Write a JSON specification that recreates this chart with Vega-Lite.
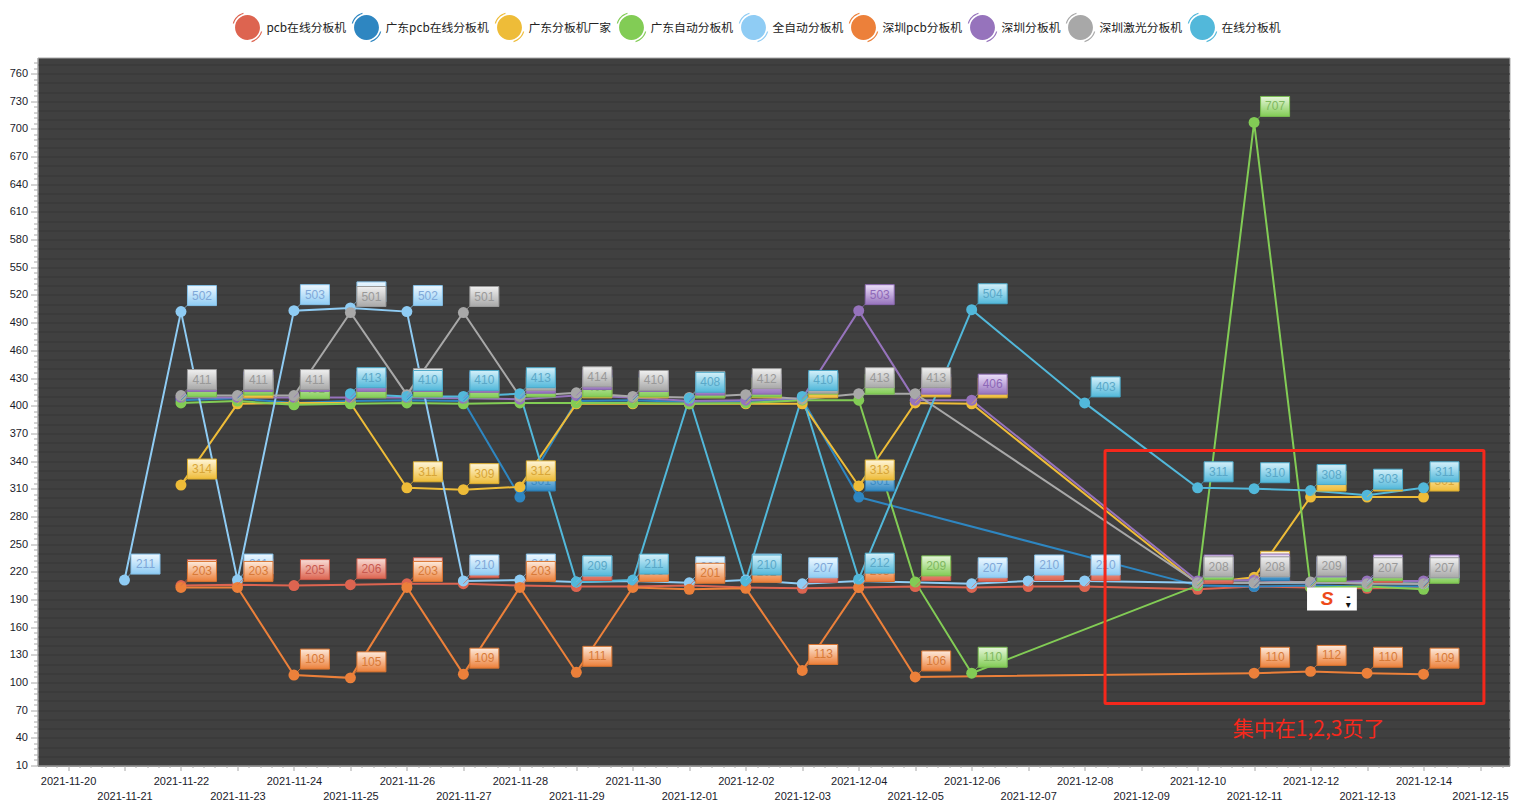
{"$schema":"https://vega.github.io/schema/vega-lite/v6.json","width":1472,"height":708,"autosize":{"type":"none"},"padding":{"left":37.5,"top":57.5,"right":12.5,"bottom":44.5},"background":"#ffffff","view":{"fill":"#404040","stroke":"#a8a8a8"},
"resolve":{"legend":{"color":"independent"}},
"datasets":{"rows":[
{"date":"2021-11-22","series":"pcb在线分板机","value":205},{"date":"2021-11-23","series":"pcb在线分板机","value":206},{"date":"2021-11-24","series":"pcb在线分板机","value":205},{"date":"2021-11-25","series":"pcb在线分板机","value":206},{"date":"2021-11-26","series":"pcb在线分板机","value":207},{"date":"2021-11-27","series":"pcb在线分板机","value":207},{"date":"2021-11-28","series":"pcb在线分板机","value":205},{"date":"2021-11-29","series":"pcb在线分板机","value":204},{"date":"2021-11-30","series":"pcb在线分板机","value":204},{"date":"2021-12-01","series":"pcb在线分板机","value":205},{"date":"2021-12-02","series":"pcb在线分板机","value":203},{"date":"2021-12-03","series":"pcb在线分板机","value":202},{"date":"2021-12-04","series":"pcb在线分板机","value":203},{"date":"2021-12-05","series":"pcb在线分板机","value":204},{"date":"2021-12-06","series":"pcb在线分板机","value":203},{"date":"2021-12-07","series":"pcb在线分板机","value":204},{"date":"2021-12-08","series":"pcb在线分板机","value":204},{"date":"2021-12-10","series":"pcb在线分板机","value":201},{"date":"2021-12-11","series":"pcb在线分板机","value":204},{"date":"2021-12-12","series":"pcb在线分板机","value":203},{"date":"2021-12-13","series":"pcb在线分板机","value":202},{"date":"2021-12-14","series":"pcb在线分板机","value":203},
{"date":"2021-11-22","series":"广东pcb在线分板机","value":406},{"date":"2021-11-23","series":"广东pcb在线分板机","value":408},{"date":"2021-11-24","series":"广东pcb在线分板机","value":403},{"date":"2021-11-25","series":"广东pcb在线分板机","value":405},{"date":"2021-11-26","series":"广东pcb在线分板机","value":406},{"date":"2021-11-27","series":"广东pcb在线分板机","value":405},{"date":"2021-11-28","series":"广东pcb在线分板机","value":301},{"date":"2021-11-29","series":"广东pcb在线分板机","value":405},{"date":"2021-11-30","series":"广东pcb在线分板机","value":406},{"date":"2021-12-01","series":"广东pcb在线分板机","value":404},{"date":"2021-12-02","series":"广东pcb在线分板机","value":405},{"date":"2021-12-03","series":"广东pcb在线分板机","value":407},{"date":"2021-12-04","series":"广东pcb在线分板机","value":301},{"date":"2021-12-10","series":"广东pcb在线分板机","value":205},{"date":"2021-12-11","series":"广东pcb在线分板机","value":204},{"date":"2021-12-12","series":"广东pcb在线分板机","value":205},{"date":"2021-12-13","series":"广东pcb在线分板机","value":204},{"date":"2021-12-14","series":"广东pcb在线分板机","value":204},
{"date":"2021-11-22","series":"广东分板机厂家","value":314},{"date":"2021-11-23","series":"广东分板机厂家","value":402},{"date":"2021-11-24","series":"广东分板机厂家","value":403},{"date":"2021-11-25","series":"广东分板机厂家","value":403},{"date":"2021-11-26","series":"广东分板机厂家","value":311},{"date":"2021-11-27","series":"广东分板机厂家","value":309},{"date":"2021-11-28","series":"广东分板机厂家","value":312},{"date":"2021-11-29","series":"广东分板机厂家","value":402},{"date":"2021-11-30","series":"广东分板机厂家","value":402},{"date":"2021-12-01","series":"广东分板机厂家","value":402},{"date":"2021-12-02","series":"广东分板机厂家","value":402},{"date":"2021-12-03","series":"广东分板机厂家","value":402},{"date":"2021-12-04","series":"广东分板机厂家","value":313},{"date":"2021-12-05","series":"广东分板机厂家","value":403},{"date":"2021-12-06","series":"广东分板机厂家","value":402},{"date":"2021-12-10","series":"广东分板机厂家","value":207},{"date":"2021-12-11","series":"广东分板机厂家","value":214},{"date":"2021-12-12","series":"广东分板机厂家","value":301},{"date":"2021-12-13","series":"广东分板机厂家","value":301},{"date":"2021-12-14","series":"广东分板机厂家","value":301},
{"date":"2021-11-22","series":"广东自动分板机","value":403},{"date":"2021-11-23","series":"广东自动分板机","value":405},{"date":"2021-11-24","series":"广东自动分板机","value":401},{"date":"2021-11-25","series":"广东自动分板机","value":402},{"date":"2021-11-26","series":"广东自动分板机","value":403},{"date":"2021-11-27","series":"广东自动分板机","value":402},{"date":"2021-11-28","series":"广东自动分板机","value":403},{"date":"2021-11-29","series":"广东自动分板机","value":403},{"date":"2021-11-30","series":"广东自动分板机","value":403},{"date":"2021-12-01","series":"广东自动分板机","value":402},{"date":"2021-12-02","series":"广东自动分板机","value":403},{"date":"2021-12-03","series":"广东自动分板机","value":406},{"date":"2021-12-04","series":"广东自动分板机","value":406},{"date":"2021-12-05","series":"广东自动分板机","value":209},{"date":"2021-12-06","series":"广东自动分板机","value":110},{"date":"2021-12-10","series":"广东自动分板机","value":205},{"date":"2021-12-11","series":"广东自动分板机","value":707},{"date":"2021-12-12","series":"广东自动分板机","value":203},{"date":"2021-12-13","series":"广东自动分板机","value":204},{"date":"2021-12-14","series":"广东自动分板机","value":201},
{"date":"2021-11-21","series":"全自动分板机","value":211},{"date":"2021-11-22","series":"全自动分板机","value":502},{"date":"2021-11-23","series":"全自动分板机","value":211},{"date":"2021-11-24","series":"全自动分板机","value":503},{"date":"2021-11-25","series":"全自动分板机","value":506},{"date":"2021-11-26","series":"全自动分板机","value":502},{"date":"2021-11-27","series":"全自动分板机","value":210},{"date":"2021-11-28","series":"全自动分板机","value":211},{"date":"2021-11-29","series":"全自动分板机","value":209},{"date":"2021-11-30","series":"全自动分板机","value":210},{"date":"2021-12-01","series":"全自动分板机","value":208},{"date":"2021-12-02","series":"全自动分板机","value":211},{"date":"2021-12-03","series":"全自动分板机","value":207},{"date":"2021-12-04","series":"全自动分板机","value":210},{"date":"2021-12-06","series":"全自动分板机","value":207},{"date":"2021-12-07","series":"全自动分板机","value":210},{"date":"2021-12-08","series":"全自动分板机","value":210},{"date":"2021-12-10","series":"全自动分板机","value":208},{"date":"2021-12-11","series":"全自动分板机","value":208},{"date":"2021-12-12","series":"全自动分板机","value":208},{"date":"2021-12-13","series":"全自动分板机","value":208},{"date":"2021-12-14","series":"全自动分板机","value":207},
{"date":"2021-11-22","series":"深圳pcb分板机","value":203},{"date":"2021-11-23","series":"深圳pcb分板机","value":203},{"date":"2021-11-24","series":"深圳pcb分板机","value":108},{"date":"2021-11-25","series":"深圳pcb分板机","value":105},{"date":"2021-11-26","series":"深圳pcb分板机","value":203},{"date":"2021-11-27","series":"深圳pcb分板机","value":109},{"date":"2021-11-28","series":"深圳pcb分板机","value":203},{"date":"2021-11-29","series":"深圳pcb分板机","value":111},{"date":"2021-11-30","series":"深圳pcb分板机","value":203},{"date":"2021-12-01","series":"深圳pcb分板机","value":201},{"date":"2021-12-02","series":"深圳pcb分板机","value":202},{"date":"2021-12-03","series":"深圳pcb分板机","value":113},{"date":"2021-12-04","series":"深圳pcb分板机","value":203},{"date":"2021-12-05","series":"深圳pcb分板机","value":106},{"date":"2021-12-11","series":"深圳pcb分板机","value":110},{"date":"2021-12-12","series":"深圳pcb分板机","value":112},{"date":"2021-12-13","series":"深圳pcb分板机","value":110},{"date":"2021-12-14","series":"深圳pcb分板机","value":109},
{"date":"2021-11-22","series":"深圳分板机","value":409},{"date":"2021-11-23","series":"深圳分板机","value":409},{"date":"2021-11-24","series":"深圳分板机","value":409},{"date":"2021-11-25","series":"深圳分板机","value":409},{"date":"2021-11-26","series":"深圳分板机","value":409},{"date":"2021-11-27","series":"深圳分板机","value":408},{"date":"2021-11-28","series":"深圳分板机","value":407},{"date":"2021-11-29","series":"深圳分板机","value":411},{"date":"2021-11-30","series":"深圳分板机","value":409},{"date":"2021-12-01","series":"深圳分板机","value":405},{"date":"2021-12-02","series":"深圳分板机","value":406},{"date":"2021-12-03","series":"深圳分板机","value":408},{"date":"2021-12-04","series":"深圳分板机","value":503},{"date":"2021-12-05","series":"深圳分板机","value":406},{"date":"2021-12-06","series":"深圳分板机","value":406},{"date":"2021-12-10","series":"深圳分板机","value":210},{"date":"2021-12-11","series":"深圳分板机","value":211},{"date":"2021-12-12","series":"深圳分板机","value":208},{"date":"2021-12-13","series":"深圳分板机","value":210},{"date":"2021-12-14","series":"深圳分板机","value":210},
{"date":"2021-11-22","series":"深圳激光分板机","value":411},{"date":"2021-11-23","series":"深圳激光分板机","value":411},{"date":"2021-11-24","series":"深圳激光分板机","value":411},{"date":"2021-11-25","series":"深圳激光分板机","value":501},{"date":"2021-11-26","series":"深圳激光分板机","value":412},{"date":"2021-11-27","series":"深圳激光分板机","value":501},{"date":"2021-11-28","series":"深圳激光分板机","value":410},{"date":"2021-11-29","series":"深圳激光分板机","value":414},{"date":"2021-11-30","series":"深圳激光分板机","value":410},{"date":"2021-12-01","series":"深圳激光分板机","value":409},{"date":"2021-12-02","series":"深圳激光分板机","value":412},{"date":"2021-12-03","series":"深圳激光分板机","value":407},{"date":"2021-12-04","series":"深圳激光分板机","value":413},{"date":"2021-12-05","series":"深圳激光分板机","value":413},{"date":"2021-12-10","series":"深圳激光分板机","value":208},{"date":"2021-12-11","series":"深圳激光分板机","value":208},{"date":"2021-12-12","series":"深圳激光分板机","value":209},{"date":"2021-12-13","series":"深圳激光分板机","value":207},{"date":"2021-12-14","series":"深圳激光分板机","value":207},
{"date":"2021-11-25","series":"在线分板机","value":413},{"date":"2021-11-26","series":"在线分板机","value":410},{"date":"2021-11-27","series":"在线分板机","value":410},{"date":"2021-11-28","series":"在线分板机","value":413},{"date":"2021-11-29","series":"在线分板机","value":209},{"date":"2021-11-30","series":"在线分板机","value":211},{"date":"2021-12-01","series":"在线分板机","value":408},{"date":"2021-12-02","series":"在线分板机","value":210},{"date":"2021-12-03","series":"在线分板机","value":410},{"date":"2021-12-04","series":"在线分板机","value":212},{"date":"2021-12-06","series":"在线分板机","value":504},{"date":"2021-12-08","series":"在线分板机","value":403},{"date":"2021-12-10","series":"在线分板机","value":311},{"date":"2021-12-11","series":"在线分板机","value":310},{"date":"2021-12-12","series":"在线分板机","value":308},{"date":"2021-12-13","series":"在线分板机","value":303},{"date":"2021-12-14","series":"在线分板机","value":311}
]},
"data":{"name":"rows"},
"encoding":{
"x":{"field":"date","type":"temporal","title":null,"scale":{"type":"utc","domain":["2021-11-19T11:02:00Z","2021-12-15T12:32:00Z"]},"axis":{"grid":false,"domainColor":"#a8a8a8","tickColor":"#a8a8a8","labelColor":"#1a1a2a","labelFont":"Liberation Sans","labelFontSize":11,"labelOverlap":false,"labelFlush":false,"labelBound":false,"labelLineHeight":15,"labelBaseline":"middle","labelPadding":11,
"tickSize":{"condition":{"test":"utchours(datum.value)==0","value":5},"value":2},
"labelExpr":"utchours(datum.value)!=0?'':(utcdate(datum.value)%2==1?['',utcFormat(datum.value,'%Y-%m-%d')]:[utcFormat(datum.value,'%Y-%m-%d'),''])",
"values":["2021-11-19T14:24:00Z","2021-11-19T19:12:00Z","2021-11-20T00:00:00Z","2021-11-20T04:48:00Z","2021-11-20T09:36:00Z","2021-11-20T14:24:00Z","2021-11-20T19:12:00Z","2021-11-21T00:00:00Z","2021-11-21T04:48:00Z","2021-11-21T09:36:00Z","2021-11-21T14:24:00Z","2021-11-21T19:12:00Z","2021-11-22T00:00:00Z","2021-11-22T04:48:00Z","2021-11-22T09:36:00Z","2021-11-22T14:24:00Z","2021-11-22T19:12:00Z","2021-11-23T00:00:00Z","2021-11-23T04:48:00Z","2021-11-23T09:36:00Z","2021-11-23T14:24:00Z","2021-11-23T19:12:00Z","2021-11-24T00:00:00Z","2021-11-24T04:48:00Z","2021-11-24T09:36:00Z","2021-11-24T14:24:00Z","2021-11-24T19:12:00Z","2021-11-25T00:00:00Z","2021-11-25T04:48:00Z","2021-11-25T09:36:00Z","2021-11-25T14:24:00Z","2021-11-25T19:12:00Z","2021-11-26T00:00:00Z","2021-11-26T04:48:00Z","2021-11-26T09:36:00Z","2021-11-26T14:24:00Z","2021-11-26T19:12:00Z","2021-11-27T00:00:00Z","2021-11-27T04:48:00Z","2021-11-27T09:36:00Z","2021-11-27T14:24:00Z","2021-11-27T19:12:00Z","2021-11-28T00:00:00Z","2021-11-28T04:48:00Z","2021-11-28T09:36:00Z","2021-11-28T14:24:00Z","2021-11-28T19:12:00Z","2021-11-29T00:00:00Z","2021-11-29T04:48:00Z","2021-11-29T09:36:00Z","2021-11-29T14:24:00Z","2021-11-29T19:12:00Z","2021-11-30T00:00:00Z","2021-11-30T04:48:00Z","2021-11-30T09:36:00Z","2021-11-30T14:24:00Z","2021-11-30T19:12:00Z","2021-12-01T00:00:00Z","2021-12-01T04:48:00Z","2021-12-01T09:36:00Z","2021-12-01T14:24:00Z","2021-12-01T19:12:00Z","2021-12-02T00:00:00Z","2021-12-02T04:48:00Z","2021-12-02T09:36:00Z","2021-12-02T14:24:00Z","2021-12-02T19:12:00Z","2021-12-03T00:00:00Z","2021-12-03T04:48:00Z","2021-12-03T09:36:00Z","2021-12-03T14:24:00Z","2021-12-03T19:12:00Z","2021-12-04T00:00:00Z","2021-12-04T04:48:00Z","2021-12-04T09:36:00Z","2021-12-04T14:24:00Z","2021-12-04T19:12:00Z","2021-12-05T00:00:00Z","2021-12-05T04:48:00Z","2021-12-05T09:36:00Z","2021-12-05T14:24:00Z","2021-12-05T19:12:00Z","2021-12-06T00:00:00Z","2021-12-06T04:48:00Z","2021-12-06T09:36:00Z","2021-12-06T14:24:00Z","2021-12-06T19:12:00Z","2021-12-07T00:00:00Z","2021-12-07T04:48:00Z","2021-12-07T09:36:00Z","2021-12-07T14:24:00Z","2021-12-07T19:12:00Z","2021-12-08T00:00:00Z","2021-12-08T04:48:00Z","2021-12-08T09:36:00Z","2021-12-08T14:24:00Z","2021-12-08T19:12:00Z","2021-12-09T00:00:00Z","2021-12-09T04:48:00Z","2021-12-09T09:36:00Z","2021-12-09T14:24:00Z","2021-12-09T19:12:00Z","2021-12-10T00:00:00Z","2021-12-10T04:48:00Z","2021-12-10T09:36:00Z","2021-12-10T14:24:00Z","2021-12-10T19:12:00Z","2021-12-11T00:00:00Z","2021-12-11T04:48:00Z","2021-12-11T09:36:00Z","2021-12-11T14:24:00Z","2021-12-11T19:12:00Z","2021-12-12T00:00:00Z","2021-12-12T04:48:00Z","2021-12-12T09:36:00Z","2021-12-12T14:24:00Z","2021-12-12T19:12:00Z","2021-12-13T00:00:00Z","2021-12-13T04:48:00Z","2021-12-13T09:36:00Z","2021-12-13T14:24:00Z","2021-12-13T19:12:00Z","2021-12-14T00:00:00Z","2021-12-14T04:48:00Z","2021-12-14T09:36:00Z","2021-12-14T14:24:00Z","2021-12-14T19:12:00Z","2021-12-15T00:00:00Z","2021-12-15T04:48:00Z","2021-12-15T09:36:00Z"]}},
"y":{"field":"value","type":"quantitative","title":null,"scale":{"domain":[10,777.4],"nice":false,"zero":false},"axis":{"grid":true,"gridColor":"#363636","gridWidth":1,"gridOpacity":{"condition":{"test":"(datum.value-10)%10==0","value":1},"value":0},"domainColor":"#a8a8a8","tickColor":"#a8a8a8","tickOpacity":{"condition":{"test":"(datum.value-10)%6==0","value":1},"value":0},"tickSize":{"condition":{"test":"(datum.value-10)%30==0","value":7},"value":4},"labelColor":"#1a1a2a","labelFont":"Liberation Sans","labelFontSize":11,"labelOverlap":false,"labelBound":false,"labelFlush":false,"labelPadding":3,"format":"d","labelExpr":"(datum.value-10)%30==0?datum.label:''",
"values":[10,16,22,28,34,40,46,52,58,64,70,76,82,88,94,100,106,112,118,124,130,136,142,148,154,160,166,172,178,184,190,196,202,208,214,220,226,232,238,244,250,256,262,268,274,280,286,292,298,304,310,316,322,328,334,340,346,352,358,364,370,376,382,388,394,400,406,412,418,424,430,436,442,448,454,460,466,472,478,484,490,496,502,508,514,520,526,532,538,544,550,556,562,568,574,580,586,592,598,604,610,616,622,628,634,640,646,652,658,664,670,676,682,688,694,700,706,712,718,724,730,736,742,748,754,760,766,772,20,30,50,60,80,90,110,120,140,150,170,180,200,210,230,240,260,270,290,300,320,330,350,360,380,390,410,420,440,450,470,480,500,510,530,540,560,570,590,600,620,630,650,660,680,690,710,720,740,750,770]}}
},
"layer":[
{"mark":{"type":"line","strokeWidth":2,"clip":true},"encoding":{"color":{"field":"series","type":"nominal","legend":null,"scale":{"domain":["pcb在线分板机","广东pcb在线分板机","广东分板机厂家","广东自动分板机","全自动分板机","深圳pcb分板机","深圳分板机","深圳激光分板机","在线分板机"],"range":["#dd6450","#2e86c1","#eebc38","#82cc55","#8fccf4","#ec803a","#9673bc","#a8a8a8","#52b8da"]}}}},
{"mark":{"type":"point","filled":true,"size":120,"opacity":1},"encoding":{"color":{"field":"series","type":"nominal","legend":{"orient":"none","legendX":195,"legendY":-45,"direction":"horizontal","columns":9,"gridAlign":"none","title":null,"symbolType":"M0.83,0A0.83,0.83 0 1 1 -0.83,0A0.83,0.83 0 1 1 0.83,0ZM-0.98,-0.27A1,1 0 0 1 -0.27,-0.98L-0.27,-0.9A0.92,0.92 0 0 0 -0.9,-0.27ZM0.98,0.27A1,1 0 0 1 0.27,0.98L0.27,0.9A0.92,0.92 0 0 0 0.9,0.27Z","symbolSize":900,"symbolStrokeWidth":0,"symbolOpacity":1,"labelFont":"Noto Sans CJK SC","labelFontSize":11.8,"labelColor":"#222222","labelOffset":4,"columnPadding":5,"labelLimit":200}}}},
{"mark":{"type":"point","shape":"M0,0L7,-7","size":4,"filled":false,"strokeWidth":0.8,"opacity":0.9},"encoding":{"color":{"field":"series","type":"nominal","legend":null}}},
{"transform":[{"filter":"datum.series==='pcb在线分板机'"}],"mark":{"type":"point","shape":"M-14.5,-10H14.5V10H-14.5Z","size":4,"filled":true,"opacity":1,"xOffset":21,"yOffset":-16,"stroke":"#c85848","strokeWidth":1,"fill":{"gradient":"linear","x1":0,"y1":0,"x2":0,"y2":1,"stops":[{"offset":0,"color":"#f8dcd6"},{"offset":1,"color":"#dd6450"}]}}},
{"transform":[{"filter":"datum.series==='pcb在线分板机'"}],"mark":{"type":"text","dx":21,"dy":-16,"font":"Liberation Sans","fontSize":12,"color":"#c85a50"},"encoding":{"text":{"field":"value","type":"quantitative"}}},
{"transform":[{"filter":"datum.series==='广东pcb在线分板机'"}],"mark":{"type":"point","shape":"M-14.5,-10H14.5V10H-14.5Z","size":4,"filled":true,"opacity":1,"xOffset":21,"yOffset":-16,"stroke":"#2a7ab0","strokeWidth":1,"fill":{"gradient":"linear","x1":0,"y1":0,"x2":0,"y2":1,"stops":[{"offset":0,"color":"#c4e2f6"},{"offset":1,"color":"#2e86c1"}]}}},
{"transform":[{"filter":"datum.series==='广东pcb在线分板机'"}],"mark":{"type":"text","dx":21,"dy":-16,"font":"Liberation Sans","fontSize":12,"color":"#3c8cc4"},"encoding":{"text":{"field":"value","type":"quantitative"}}},
{"transform":[{"filter":"datum.series==='广东分板机厂家'"}],"mark":{"type":"point","shape":"M-14.5,-10H14.5V10H-14.5Z","size":4,"filled":true,"opacity":1,"xOffset":21,"yOffset":-16,"stroke":"#dcae30","strokeWidth":1,"fill":{"gradient":"linear","x1":0,"y1":0,"x2":0,"y2":1,"stops":[{"offset":0,"color":"#fff6da"},{"offset":1,"color":"#eebc38"}]}}},
{"transform":[{"filter":"datum.series==='广东分板机厂家'"}],"mark":{"type":"text","dx":21,"dy":-16,"font":"Liberation Sans","fontSize":12,"color":"#d8a638"},"encoding":{"text":{"field":"value","type":"quantitative"}}},
{"transform":[{"filter":"datum.series==='广东自动分板机'"}],"mark":{"type":"point","shape":"M-14.5,-10H14.5V10H-14.5Z","size":4,"filled":true,"opacity":1,"xOffset":21,"yOffset":-16,"stroke":"#78bc50","strokeWidth":1,"fill":{"gradient":"linear","x1":0,"y1":0,"x2":0,"y2":1,"stops":[{"offset":0,"color":"#e6f6da"},{"offset":1,"color":"#82cc55"}]}}},
{"transform":[{"filter":"datum.series==='广东自动分板机'"}],"mark":{"type":"text","dx":21,"dy":-16,"font":"Liberation Sans","fontSize":12,"color":"#80b860"},"encoding":{"text":{"field":"value","type":"quantitative"}}},
{"transform":[{"filter":"datum.series==='全自动分板机'"}],"mark":{"type":"point","shape":"M-14.5,-10H14.5V10H-14.5Z","size":4,"filled":true,"opacity":1,"xOffset":21,"yOffset":-16,"stroke":"#84c0e8","strokeWidth":1,"fill":{"gradient":"linear","x1":0,"y1":0,"x2":0,"y2":1,"stops":[{"offset":0,"color":"#eef8ff"},{"offset":1,"color":"#8fccf4"}]}}},
{"transform":[{"filter":"datum.series==='全自动分板机'"}],"mark":{"type":"text","dx":21,"dy":-16,"font":"Liberation Sans","fontSize":12,"color":"#7fa8d8"},"encoding":{"text":{"field":"value","type":"quantitative"}}},
{"transform":[{"filter":"datum.series==='深圳pcb分板机'"}],"mark":{"type":"point","shape":"M-14.5,-10H14.5V10H-14.5Z","size":4,"filled":true,"opacity":1,"xOffset":21,"yOffset":-16,"stroke":"#d87430","strokeWidth":1,"fill":{"gradient":"linear","x1":0,"y1":0,"x2":0,"y2":1,"stops":[{"offset":0,"color":"#fdeadc"},{"offset":1,"color":"#ec803a"}]}}},
{"transform":[{"filter":"datum.series==='深圳pcb分板机'"}],"mark":{"type":"text","dx":21,"dy":-16,"font":"Liberation Sans","fontSize":12,"color":"#d87a38"},"encoding":{"text":{"field":"value","type":"quantitative"}}},
{"transform":[{"filter":"datum.series==='深圳分板机'"}],"mark":{"type":"point","shape":"M-14.5,-10H14.5V10H-14.5Z","size":4,"filled":true,"opacity":1,"xOffset":21,"yOffset":-16,"stroke":"#8a68b0","strokeWidth":1,"fill":{"gradient":"linear","x1":0,"y1":0,"x2":0,"y2":1,"stops":[{"offset":0,"color":"#ecdffa"},{"offset":1,"color":"#9673bc"}]}}},
{"transform":[{"filter":"datum.series==='深圳分板机'"}],"mark":{"type":"text","dx":21,"dy":-16,"font":"Liberation Sans","fontSize":12,"color":"#8e68b8"},"encoding":{"text":{"field":"value","type":"quantitative"}}},
{"transform":[{"filter":"datum.series==='深圳激光分板机'"}],"mark":{"type":"point","shape":"M-14.5,-10H14.5V10H-14.5Z","size":4,"filled":true,"opacity":1,"xOffset":21,"yOffset":-16,"stroke":"#9a9a9a","strokeWidth":1,"fill":{"gradient":"linear","x1":0,"y1":0,"x2":0,"y2":1,"stops":[{"offset":0,"color":"#f0f0f0"},{"offset":1,"color":"#a8a8a8"}]}}},
{"transform":[{"filter":"datum.series==='深圳激光分板机'"}],"mark":{"type":"text","dx":21,"dy":-16,"font":"Liberation Sans","fontSize":12,"color":"#999999"},"encoding":{"text":{"field":"value","type":"quantitative"}}},
{"transform":[{"filter":"datum.series==='在线分板机'"}],"mark":{"type":"point","shape":"M-14.5,-10H14.5V10H-14.5Z","size":4,"filled":true,"opacity":1,"xOffset":21,"yOffset":-16,"stroke":"#4aa8c8","strokeWidth":1,"fill":{"gradient":"linear","x1":0,"y1":0,"x2":0,"y2":1,"stops":[{"offset":0,"color":"#d4f0fa"},{"offset":1,"color":"#52b8da"}]}}},
{"transform":[{"filter":"datum.series==='在线分板机'"}],"mark":{"type":"text","dx":21,"dy":-16,"font":"Liberation Sans","fontSize":12,"color":"#5aa8c8"},"encoding":{"text":{"field":"value","type":"quantitative"}}},
{"data":{"values":[{"from":"2021-12-08T08:40:00Z","to":"2021-12-15T01:40:00Z","low":77.2,"high":351.4}]},"mark":{"type":"rect","filled":false,"stroke":"#f5281c","strokeWidth":3,"cornerRadius":1},"encoding":{"x":{"field":"from","type":"temporal"},"x2":{"field":"to"},"y":{"field":"low","type":"quantitative"},"y2":{"field":"high"}}},
{"data":{"values":[{"day":"2021-12-11T23:10:00Z","level":48,"note":"集中在1,2,3页了"}]},"mark":{"type":"text","font":"Noto Sans CJK SC","fontSize":21,"color":"#f5281c"},"encoding":{"x":{"field":"day","type":"temporal"},"y":{"field":"level","type":"quantitative"},"text":{"field":"note"}}},
{"data":{"values":[{"from":"2021-12-11T22:30:00Z","to":"2021-12-12T19:40:00Z","low":178,"high":203}]},"mark":{"type":"rect","fill":"#ffffff"},"encoding":{"x":{"field":"from","type":"temporal"},"x2":{"field":"to"},"y":{"field":"low","type":"quantitative"},"y2":{"field":"high"}}},
{"data":{"values":[{"day":"2021-12-12T07:00:00Z","level":190,"glyph":"S"}]},"mark":{"type":"text","font":"Liberation Sans","fontSize":19,"fontWeight":"bold","fontStyle":"italic","color":"#ee4a1a"},"encoding":{"x":{"field":"day","type":"temporal"},"y":{"field":"level","type":"quantitative"},"text":{"field":"glyph"}}},
{"data":{"values":[{"day":"2021-12-12T16:00:00Z","level":193,"glyph":"-"},{"day":"2021-12-12T16:00:00Z","level":184,"glyph":"▾"}]},"mark":{"type":"text","font":"DejaVu Sans","fontSize":10,"fontWeight":"bold","color":"#111111"},"encoding":{"x":{"field":"day","type":"temporal"},"y":{"field":"level","type":"quantitative"},"text":{"field":"glyph"}}}
]}
